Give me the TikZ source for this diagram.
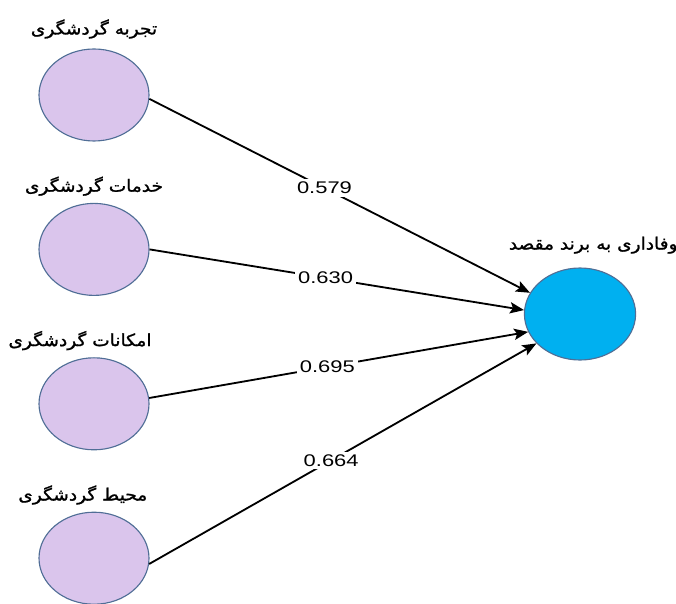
\documentclass[tikz,border=0pt]{standalone}
\usepackage{fontspec}
\setmainfont{Liberation Sans}
\newfontfamily\numfont[FakeStretch=1.3]{Liberation Sans}
\newfontfamily\farsifont[Script=Arabic,FakeStretch=1.1,FakeBold=1.2]{DejaVu Sans}
\TeXXeTstate=1
\definecolor{mylilac}{RGB}{218,197,236}
\definecolor{mycyan}{RGB}{0,176,240}
\definecolor{myrim}{RGB}{80,110,150}
\usetikzlibrary{arrows.meta,positioning,shapes.geometric}

\begin{document}
\begin{tikzpicture}[
    srcnode/.style={draw=myrim,line width=0.8pt,ellipse,fill=mylilac,minimum width=2.75cm,minimum height=2.3cm},
    trgnode/.style={draw=myrim,line width=0.8pt,ellipse,fill=mycyan,minimum width=2.78cm,minimum height=2.3cm},
    lbl/.style={inner sep=1pt,font=\farsifont\fontsize{12}{14}\selectfont},
    coef/.style={fill=white,inner sep=2pt,font=\numfont\fontsize{12}{14}\selectfont},
    path/.style={line width=1.3pt,-{Stealth[length=10pt,width=8pt,inset=2pt]}},
    node distance=3.86cm
    ]
    \useasboundingbox (0,0) rectangle (16.9,-15.075);

    \node (s1) [srcnode] at (2.35,-2.375) {};
    \node (s2) [srcnode,below of=s1] {};
    \node (s3) [srcnode,below of=s2] {};
    \node (s4) [srcnode,below of=s3] {};
    \node (t1) [trgnode] at (14.5,-7.85) {};

    % the titles
    \node (l1) [lbl,above of=s1,node distance=1.65cm] {\beginR تجربه گردشگری\endR};
    \node (l2) [lbl,above of=s2,node distance=1.58cm] {\beginR خدمات گردشگری\endR};
    \node (l3) [lbl,above of=s3,node distance=1.58cm,xshift=-0.35cm] {\beginR امکانات گردشگری\endR};
    \node (l4) [lbl,above of=s4,node distance=1.58cm,xshift=-0.28cm] {\beginR محیط گردشگری\endR};
    \node (l5) [lbl,above of=t1,node distance=1.72cm,xshift=0.33cm] {\beginR وفاداری به برند مقصد\endR};

    % the paths
    \draw[path] (s1.-4) -- node[coef,pos=0.46] {0.579} (t1.157);
    \draw[path] (s2.east) -- node[coef,pos=0.47] {0.630} (t1.176);
    \draw[path] (s3.6) -- node[coef,pos=0.47] {0.695} (t1.199);
    \draw[path] (s4.-6) -- node[coef,pos=0.47] {0.664} (t1.214);
\end{tikzpicture}
\end{document}
